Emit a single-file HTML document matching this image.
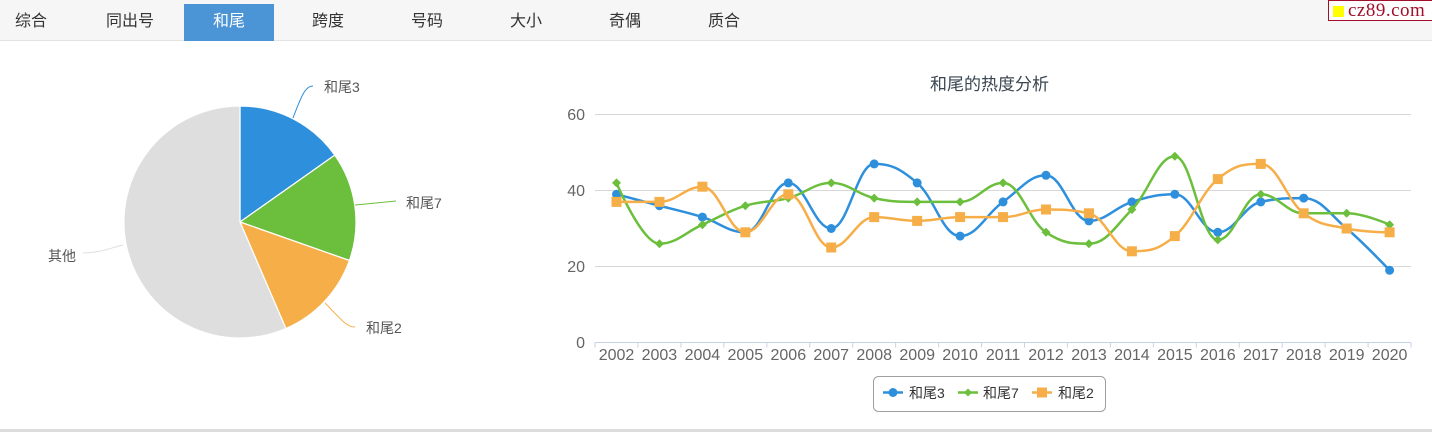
<!DOCTYPE html>
<html><head><meta charset="utf-8">
<style>
*{margin:0;padding:0;box-sizing:border-box}
html,body{width:1432px;height:432px;overflow:hidden;background:#fff;font-family:"Liberation Sans","Noto Sans CJK SC",sans-serif}
#bar{position:absolute;left:0;top:0;width:1432px;height:41px;background:#f6f6f6;border-bottom:1px solid #e3e3e3}
.tab{position:absolute;top:4px;width:90px;height:37px;line-height:35px;text-align:center;font-size:16px;color:#333}
.tab.act{background:#4b94d6;color:#fff}
#logo{position:absolute;left:1328px;top:0;width:106px;height:21px;border:1px solid #a0102a;background:#fff}
#logo .sq{position:absolute;left:4px;top:5px;width:11px;height:11px;background:#ffff00}
#logo .t{position:absolute;left:19px;top:0px;line-height:19px;font-family:"Liberation Serif",serif;font-size:19px;color:#a0102a;letter-spacing:0.5px}
#bot{position:absolute;left:0;top:429px;width:1432px;height:3px;background:#dcdcdc}
svg{position:absolute;left:0;top:0}
</style></head><body>
<div id="bar">
<div class="tab" style="left:-14px">综合</div>
<div class="tab" style="left:85px">同出号</div>
<div class="tab act" style="left:184px">和尾</div>
<div class="tab" style="left:283px">跨度</div>
<div class="tab" style="left:382px">号码</div>
<div class="tab" style="left:481px">大小</div>
<div class="tab" style="left:580px">奇偶</div>
<div class="tab" style="left:679px">质合</div>
</div>
<div id="logo"><div class="sq"></div><div class="t">cz89.com</div></div>
<div id="bot"></div>
<svg width="1432" height="432" viewBox="0 0 1432 432" style="top:0">
<!-- pie -->
<g stroke="#fff" stroke-width="1.2" stroke-linejoin="round">
<path d="M240 222 L240 106 A116 116 0 0 1 334.8 155.1 Z" fill="#2e90dc"/>
<path d="M240 222 L334.8 155.1 A116 116 0 0 1 349.4 260.5 Z" fill="#6bbf3c"/>
<path d="M240 222 L349.4 260.5 A116 116 0 0 1 285.9 328.5 Z" fill="#f6ae48"/>
<path d="M240 222 L285.9 328.5 A116 116 0 1 1 240 106 Z" fill="#dedede"/>
</g>
<g fill="none" stroke-width="1">
<path d="M313 86 C305 86 301 97 293 118" stroke="#2e90dc"/>
<path d="M396 201 L376 203 L355 205" stroke="#6bbf3c"/>
<path d="M355 327 C346 327 340 318 325 303" stroke="#f6ae48"/>
<path d="M83 253 C100 253 110 248 123 245" stroke="#dedede"/>
</g>
<g font-size="14" fill="#555" font-family="Liberation Sans, Noto Sans CJK SC, sans-serif">
<text x="324" y="92">和尾3</text>
<text x="406" y="208">和尾7</text>
<text x="366" y="333">和尾2</text>
<text x="48" y="261">其他</text>
</g>
<!-- line chart -->
<text x="989.5" y="90" text-anchor="middle" font-size="17" fill="#3a4652" font-family="Liberation Sans, Noto Sans CJK SC, sans-serif">和尾的热度分析</text>
<g stroke="#d8d8d8" stroke-width="1">
<line x1="595" y1="114.5" x2="1411" y2="114.5"/>
<line x1="595" y1="190.5" x2="1411" y2="190.5"/>
<line x1="595" y1="266.5" x2="1411" y2="266.5"/>
</g>
<line x1="595" y1="342.5" x2="1411" y2="342.5" stroke="#c4d3e6" stroke-width="1"/>
<g id="ticks" stroke="#c4d3e6" stroke-width="1"></g>
<g font-size="16" fill="#666" text-anchor="end" font-family="Liberation Sans, sans-serif">
<text x="585" y="120">60</text>
<text x="585" y="196">40</text>
<text x="585" y="272">20</text>
<text x="585" y="348">0</text>
</g>
<g font-size="16" fill="#666" text-anchor="middle" font-family="Liberation Sans, sans-serif">
<text x="616.5" y="360">2002</text><text x="659.4" y="360">2003</text><text x="702.4" y="360">2004</text><text x="745.3" y="360">2005</text><text x="788.3" y="360">2006</text><text x="831.2" y="360">2007</text><text x="874.2" y="360">2008</text><text x="917.2" y="360">2009</text><text x="960.1" y="360">2010</text><text x="1003.1" y="360">2011</text><text x="1046" y="360">2012</text><text x="1089" y="360">2013</text><text x="1131.9" y="360">2014</text><text x="1174.9" y="360">2015</text><text x="1217.8" y="360">2016</text><text x="1260.8" y="360">2017</text><text x="1303.7" y="360">2018</text><text x="1346.7" y="360">2019</text><text x="1389.6" y="360">2020</text>
</g>
<g id="series"></g>
<!-- legend -->
<rect x="873.5" y="376.5" width="232" height="35" rx="5" ry="5" fill="#fff" stroke="#a0a0a0" stroke-width="1"/>
<g>
<line x1="883" y1="392.5" x2="903" y2="392.5" stroke="#2e90dc" stroke-width="2.5"/>
<circle cx="893" cy="392.5" r="4.5" fill="#2e90dc"/>
<line x1="958" y1="392.5" x2="978" y2="392.5" stroke="#6bbf3c" stroke-width="2.5"/>
<path d="M968 388.5 L972 392.5 L968 396.5 L964 392.5 Z" fill="#6bbf3c"/>
<line x1="1032" y1="392.5" x2="1052" y2="392.5" stroke="#f6ae48" stroke-width="2.5"/>
<rect x="1037" y="387.5" width="10" height="10" fill="#f6ae48"/>
</g>
<g font-size="14" fill="#333" font-family="Liberation Sans, Noto Sans CJK SC, sans-serif">
<text x="909" y="398">和尾3</text>
<text x="983" y="398">和尾7</text>
<text x="1058" y="398">和尾2</text>
</g>
</svg>
<script>
(function(){
var NS="http://www.w3.org/2000/svg";
var ticks=document.getElementById('ticks');
for(var k=0;k<=19;k++){var x=595+42.95*k;var l=document.createElementNS(NS,'line');
l.setAttribute('x1',x);l.setAttribute('x2',x);l.setAttribute('y1',342.5);l.setAttribute('y2',347.5);ticks.appendChild(l);}
var data=[
 {c:'#2e90dc',m:'circle',v:[39,36,33,29,42,30,47,42,28,37,44,32,37,39,29,37,38,30,19]},
 {c:'#6bbf3c',m:'diamond',v:[42,26,31,36,38,42,38,37,37,42,29,26,35,49,27,39,34,34,31]},
 {c:'#f6ae48',m:'square',v:[37,37,41,29,39,25,33,32,33,33,35,34,24,28,43,47,34,30,29]}
];
var g=document.getElementById('series');
function X(i){return 616.5+42.95*i;}
function Y(v){return 342.5-v*3.8;}
data.forEach(function(s){
 var pts=s.v.map(function(v,i){return {x:X(i),y:Y(v)};});
 var d='M'+pts[0].x+' '+pts[0].y;
 var sm=1.5,den=2.5;
 for(var i=1;i<pts.length;i++){
  var p=pts[i],lp=pts[i-1],np=pts[i+1];
  var lcx=p.x,lcy=p.y;
  if(np){
   lcx=(sm*p.x+lp.x)/den;lcy=(sm*p.y+lp.y)/den;
   var rcx=(sm*p.x+np.x)/den,rcy=(sm*p.y+np.y)/den;
   var corr=((rcy-lcy)*(rcx-p.x))/(rcx-lcx)+p.y-rcy;
   lcy+=corr;rcy+=corr;
   if(lcy>lp.y&&lcy>p.y){lcy=Math.max(lp.y,p.y);rcy=2*p.y-lcy;}
   else if(lcy<lp.y&&lcy<p.y){lcy=Math.min(lp.y,p.y);rcy=2*p.y-lcy;}
   if(rcy>np.y&&rcy>p.y){rcy=Math.max(np.y,p.y);lcy=2*p.y-rcy;}
   else if(rcy<np.y&&rcy<p.y){rcy=Math.min(np.y,p.y);lcy=2*p.y-rcy;}
   p.rcx=rcx;p.rcy=rcy;
  }
  var ax=lp.rcx!==undefined?lp.rcx:lp.x, ay=lp.rcy!==undefined?lp.rcy:lp.y;
  d+=' C'+ax.toFixed(2)+' '+ay.toFixed(2)+' '+lcx.toFixed(2)+' '+lcy.toFixed(2)+' '+p.x.toFixed(2)+' '+p.y.toFixed(2);
 }
 var path=document.createElementNS(NS,'path');
 path.setAttribute('d',d);path.setAttribute('fill','none');path.setAttribute('stroke',s.c);
 path.setAttribute('stroke-width','2.5');path.setAttribute('stroke-linejoin','round');path.setAttribute('stroke-linecap','round');
 g.appendChild(path);
 pts.forEach(function(p){
  var e;
  if(s.m==='circle'){e=document.createElementNS(NS,'circle');e.setAttribute('cx',p.x);e.setAttribute('cy',p.y);e.setAttribute('r',4.5);}
  else if(s.m==='diamond'){e=document.createElementNS(NS,'path');e.setAttribute('d','M'+p.x+' '+(p.y-4.5)+' L'+(p.x+4.5)+' '+p.y+' L'+p.x+' '+(p.y+4.5)+' L'+(p.x-4.5)+' '+p.y+' Z');}
  else {e=document.createElementNS(NS,'rect');e.setAttribute('x',p.x-5);e.setAttribute('y',p.y-5);e.setAttribute('width',10);e.setAttribute('height',10);}
  e.setAttribute('fill',s.c);g.appendChild(e);
 });
});
})();
</script>
</body></html>
